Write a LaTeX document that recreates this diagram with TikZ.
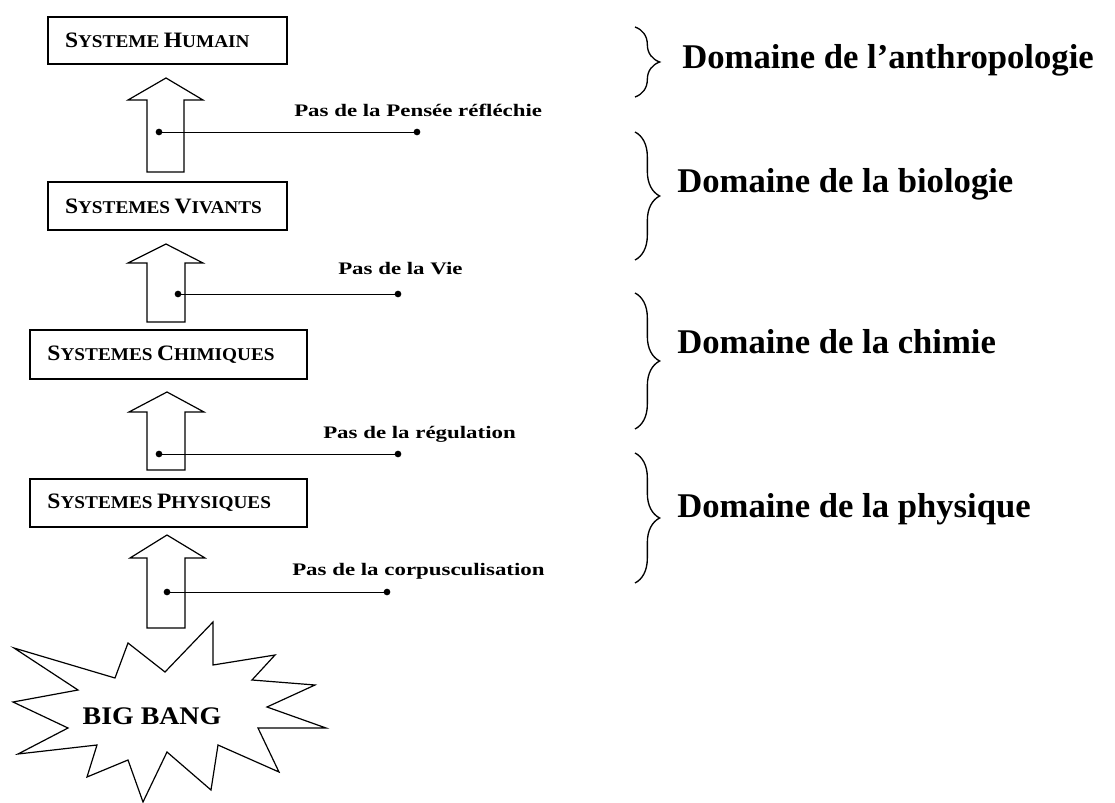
\documentclass[tikz,border=0pt]{standalone}
\usepackage{fontspec}
\setmainfont{Liberation Serif}
\newfontfamily\lblfont[FakeStretch=1.3]{Liberation Serif}
\newfontfamily\bbfont[FakeStretch=1.1]{Liberation Serif}
\newfontfamily\boxfont[FakeStretch=1.07]{Liberation Serif}
\usetikzlibrary{decorations.pathreplacing}
\newcommand\scx[2]{{\fontsize{16.5}{18}\selectfont #1}{\fontsize{13.5}{15}\selectfont #2}}
\begin{document}
\begin{tikzpicture}[x=0.75pt,y=-0.75pt,
  sysbox/.style={draw, line width=1.4pt, rectangle, inner xsep=13pt, inner ysep=0pt,
                 align=left, font=\boxfont\bfseries, outer sep=0pt},
  blockarrow/.style={draw, line width=0.9pt, line join=miter},
  stepline/.style={line width=0.75pt},
  dotend/.style={circle, fill, inner sep=0pt, minimum size=5pt},
  lbl/.style={anchor=base west, inner sep=0pt, font=\lblfont\bfseries\fontsize{13.2}{15}\selectfont},
  dom/.style={anchor=base west, inner sep=0pt, font=\bfseries\fontsize{26}{30}\selectfont},
  dombrace/.style={decorate, decoration={brace, amplitude=18.5pt}, line width=1pt},
  starline/.style={draw, line width=0.9pt, line join=miter}]
\useasboundingbox (0,0) rectangle (1115,803);

% system boxes
\node[sysbox, text width=153.75pt, minimum height=35.25pt] (hum) at (167.5,40.5) {\scx{S}{YSTEME} \scx{H}{UMAIN}};
\node[sysbox, text width=153.75pt, minimum height=36pt] (viv) at (167.5,206) {\scx{S}{YSTEMES} \scx{V}{IVANTS}};
\node[sysbox, text width=181.5pt, minimum height=36.75pt] (chi) at (168.5,354.5) {\scx{S}{YSTEMES} \scx{C}{HIMIQUES}};
\node[sysbox, text width=181.5pt, minimum height=36pt] (phy) at (168.5,503) {\scx{S}{YSTEMES} \scx{P}{HYSIQUES}};

% block arrows
\draw[blockarrow] (147,172) -- (147,100) -- (128,100) -- (166,78) -- (203,100) -- (184,100) -- (184,172) -- cycle;
\draw[blockarrow] (147,322) -- (147,263) -- (128,263) -- (166,244) -- (203,263) -- (185,263) -- (185,322) -- cycle;
\draw[blockarrow] (147,470) -- (147,412) -- (129,412) -- (167,392) -- (204,412) -- (185,412) -- (185,470) -- cycle;
\draw[blockarrow] (147,628) -- (147,558) -- (130,558) -- (167,535) -- (205,558) -- (185,558) -- (185,628) -- cycle;

% step lines with dots
\node[dotend] (s1a) at (159,132) {};
\node[dotend] (s1b) at (417,132) {};
\draw[stepline] (s1a.center) -- (s1b.center);
\node[dotend] (s2a) at (178,294) {};
\node[dotend] (s2b) at (398,294) {};
\draw[stepline] (s2a.center) -- (s2b.center);
\node[dotend] (s3a) at (159,454) {};
\node[dotend] (s3b) at (398,454) {};
\draw[stepline] (s3a.center) -- (s3b.center);
\node[dotend] (s4a) at (167,592) {};
\node[dotend] (s4b) at (387,592) {};
\draw[stepline] (s4a.center) -- (s4b.center);

% step labels
\node[lbl] (l1) at (294,116) {Pas de la Pensée réfléchie};
\node[lbl] (l2) at (338,274) {Pas de la Vie};
\node[lbl] (l3) at (323,438) {Pas de la régulation};
\node[lbl] (l4) at (292,575) {Pas de la corpusculisation};

% braces
\coordinate (b1t) at (635,27);  \coordinate (b1b) at (635,97);
\coordinate (b2t) at (635,132); \coordinate (b2b) at (635,260);
\coordinate (b3t) at (635,293); \coordinate (b3b) at (635,429);
\coordinate (b4t) at (635,453); \coordinate (b4b) at (635,583);
\draw[dombrace] (b1t) -- (b1b);
\draw[dombrace] (b2t) -- (b2b);
\draw[dombrace] (b3t) -- (b3b);
\draw[dombrace] (b4t) -- (b4b);

% domain texts
\node[dom] (d1) at (682,68) {Domaine de l’anthropologie};
\node[dom] (d2) at (677,192) {Domaine de la biologie};
\node[dom] (d3) at (677,353) {Domaine de la chimie};
\node[dom] (d4) at (677,517) {Domaine de la physique};

% big bang star
\draw[starline] (213,622) -- (213,665) -- (275,655) -- (252,680) -- (315,685) -- (267,707)
  -- (326,728) -- (258,728) -- (279,772) -- (218,745) -- (211,790) -- (167,752)
  -- (143,802) -- (128,760) -- (87,777) -- (97,745) -- (18,754) -- (68,728)
  -- (13,702) -- (78,690) -- (14,648) -- (115,678) -- (128,643) -- (165,672) -- cycle;
\node[font=\bbfont\bfseries\fontsize{19}{22}\selectfont, inner sep=0pt] (bb) at (152,716) {BIG BANG};
\end{tikzpicture}
\end{document}
